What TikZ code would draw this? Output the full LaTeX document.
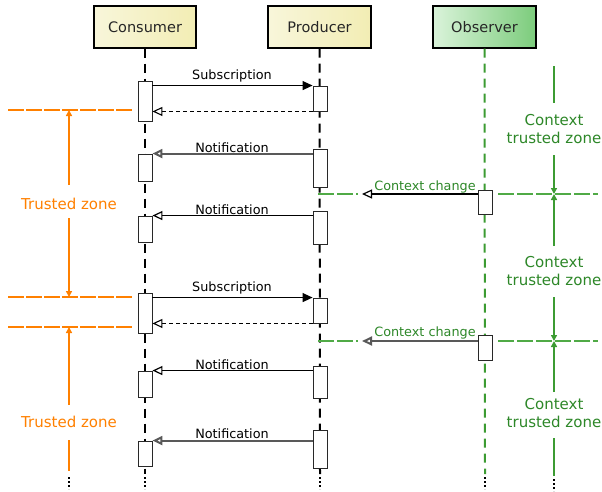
\documentclass[tikz,border=0pt]{standalone}
\usepackage{fontspec}
\setmainfont{DejaVu Sans}
\usetikzlibrary{arrows.meta,calc}
\definecolor{orz}{RGB}{255,128,0}
\definecolor{grz}{RGB}{60,155,50}
\definecolor{grl}{RGB}{80,170,70}
\definecolor{grt}{RGB}{45,135,40}
\definecolor{boxline}{RGB}{40,40,40}
\definecolor{ylL}{RGB}{248,246,218}
\definecolor{ylR}{RGB}{242,237,180}
\definecolor{gnL}{RGB}{218,243,218}
\definecolor{gnR}{RGB}{124,204,124}
\tikzset{
  header/.style={draw=black, line width=1.2pt, minimum width=102pt, minimum height=42pt, inner sep=0pt, font=\fontsize{14.5}{17}\selectfont, text=black!85},
  yhead/.style={header, left color=ylL, right color=ylR},
  ghead/.style={header, left color=gnL, right color=gnR},
  actbox/.style={draw=boxline, fill=white, line width=0.9pt, minimum width=14pt, inner sep=0pt},
  lifeline/.style={line width=2pt, dash pattern=on 9pt off 6pt},
  dotsline/.style={line width=2pt, dash pattern=on 2pt off 2pt},
  msgfill/.style={line width=1.2pt, -{Triangle[width=9pt,length=10pt]}},
  msgopen/.style={line width=1.2pt, -{Triangle[open,width=9pt,length=10pt,fill=white]}},
  msggray/.style={msgopen, draw=black!65, line width=2pt},
  retmsg/.style={line width=1.1pt, dash pattern=on 4pt off 3pt, -{Triangle[open,width=9pt,length=10pt,fill=white]}},
  lbl/.style={font=\fontsize{12.8}{15}\selectfont, inner sep=0pt},
  zonetext/.style={font=\fontsize{15}{18}\selectfont, align=center, inner sep=0pt},
  ozone/.style={draw=orz, line width=2pt, dash pattern=on 16pt off 2pt},
  oarr/.style={draw=orz, line width=1.5pt, -{Triangle[width=6pt,length=6pt]}},
  oline/.style={draw=orz, line width=1.5pt},
  gzone/.style={draw=grl, line width=2pt, dash pattern=on 16pt off 3pt},
  garr/.style={draw=grz, line width=1.8pt, -{Triangle[width=6pt,length=6pt]}},
  gline/.style={draw=grz, line width=1.8pt}
}
\begin{document}
\begin{tikzpicture}[x=1pt,y=-1pt]
\useasboundingbox (0,0) rectangle (602,491);

% headers
\node[yhead] (cons) at (145,27) {Consumer};
\node[yhead, minimum width=103pt] (prod) at (319.5,27) {Producer};
\node[ghead, minimum width=103pt] (obs) at (484.5,27) {Observer};

% lifeline ends
\coordinate (cend) at (145,474);
\coordinate (pend) at (320,474);
\coordinate (oend) at (485,474);
\coordinate (cdot1) at (145,477); \coordinate (cdot2) at (145,489);
\coordinate (pdot1) at (320,477); \coordinate (pdot2) at (320,489);
\coordinate (odot1) at (485,477); \coordinate (odot2) at (485,489);

\draw[lifeline] (cons.south) -- (cend);
\draw[lifeline] (prod.south) -- (pend);
\draw[lifeline, draw=grz] (obs.south) -- (oend);
\draw[dotsline] (cdot1) -- (cdot2);
\draw[dotsline] (pdot1) -- (pdot2);
\draw[dotsline] (odot1) -- (odot2);

% orange zone lines
\coordinate (oh1a) at (8,110); \coordinate (oh1b) at (133,110);
\coordinate (oh2a) at (8,297); \coordinate (oh2b) at (133,297);
\coordinate (oh3a) at (8,327); \coordinate (oh3b) at (133,327);
\draw[ozone] (oh1a) -- (oh1b);
\draw[ozone] (oh2a) -- (oh2b);
\draw[ozone] (oh3a) -- (oh3b);
\node[zonetext, text=orz] (tz1) at (69,204) {Trusted zone};
\node[zonetext, text=orz] (tz2) at (69,422) {Trusted zone};
\coordinate (ov1) at (69,185); \coordinate (ov1t) at (69,110);
\coordinate (ov2) at (69,218); \coordinate (ov2t) at (69,297);
\coordinate (ov3) at (69,405); \coordinate (ov3t) at (69,327);
\coordinate (ov4) at (69,440); \coordinate (ov4e) at (69,471);
\coordinate (odt1) at (69,477); \coordinate (odt2) at (69,489);
\draw[oarr] (ov1) -- (ov1t);
\draw[oarr] (ov2) -- (ov2t);
\draw[oarr] (ov3) -- (ov3t);
\draw[oline] (ov4) -- (ov4e);
\draw[dotsline] (odt1) -- (odt2);

% green zone lines
\coordinate (gh1a) at (318,194); \coordinate (gh1b) at (358,194);
\coordinate (gh1c) at (498,194); \coordinate (gh1d) at (598,194);
\coordinate (gh2a) at (318,341); \coordinate (gh2b) at (358,341);
\coordinate (gh2c) at (498,341); \coordinate (gh2d) at (598,341);
\draw[gzone] (gh1a) -- (gh1b);
\draw[gzone] (gh1c) -- (gh1d);
\draw[gzone] (gh2a) -- (gh2b);
\draw[gzone] (gh2c) -- (gh2d);
\node[zonetext, text=grt] (cz1) at (554,129) {Context\\trusted zone};
\node[zonetext, text=grt] (cz2) at (554,271) {Context\\trusted zone};
\node[zonetext, text=grt] (cz3) at (554,413) {Context\\trusted zone};
\coordinate (gv0a) at (554,66); \coordinate (gv0b) at (554,103);
\coordinate (gv1) at (554,155); \coordinate (gv1t) at (554,194);
\coordinate (gv2) at (554,246); \coordinate (gv2t) at (554,194);
\coordinate (gv3) at (554,297); \coordinate (gv3t) at (554,341);
\coordinate (gv4) at (554,392); \coordinate (gv4t) at (554,341);
\coordinate (gv5a) at (554,438); \coordinate (gv5b) at (554,476);
\coordinate (gdt1) at (554,479); \coordinate (gdt2) at (554,491);
\draw[gline] (gv0a) -- (gv0b);
\draw[garr] (gv1) -- (gv1t);
\draw[garr] (gv2) -- (gv2t);
\draw[garr] (gv3) -- (gv3t);
\draw[garr] (gv4) -- (gv4t);
\draw[gline] (gv5a) -- (gv5b);
\draw[dotsline] (gdt1) -- (gdt2);

% activation boxes
\node[actbox, minimum height=40pt] (c1) at (145,101) {};
\node[actbox, minimum height=27pt] (c2) at (145,167.5) {};
\node[actbox, minimum height=26pt] (c3) at (145,229) {};
\node[actbox, minimum height=40pt] (c4) at (145,313) {};
\node[actbox, minimum height=26pt] (c5) at (145,384) {};
\node[actbox, minimum height=25pt] (c6) at (145,453.5) {};
\node[actbox, minimum height=25pt] (p1) at (320,98.5) {};
\node[actbox, minimum height=38pt] (p2) at (320,168) {};
\node[actbox, minimum height=33pt] (p3) at (320,227.5) {};
\node[actbox, minimum height=25pt] (p4) at (320,310.5) {};
\node[actbox, minimum height=32pt] (p5) at (320,382) {};
\node[actbox, minimum height=38pt] (p6) at (320,449) {};
\node[actbox, minimum height=24pt] (o1) at (485,202) {};
\node[actbox, minimum height=25pt] (o2) at (485,347.5) {};

% messages
\draw[msgfill] (c1.east |- p1.north) -- (p1.north west);
\draw[retmsg] (p1.south west) -- (c1.east |- p1.south);
\draw[msggray] (p2.west |- c2.north) -- (c2.north east);
\draw[msgopen] (p3.west |- c3.north) -- (c3.north east);
\draw[msgfill] (c4.east |- p4.north) -- (p4.north west);
\draw[retmsg] (p4.south west) -- (c4.east |- p4.south);
\draw[msgopen] (p5.west |- c5.north) -- (c5.north east);
\draw[msggray] (p6.west |- c6.north) -- (c6.north east);
\coordinate (cc1) at (362,194);
\coordinate (cc2) at (362,341);
\draw[msgopen] (o1.west |- cc1) -- (cc1);
\draw[msggray] (o2.west |- cc2) -- (cc2);

% labels
\node[lbl] (l1) at (232,76) {Subscription};
\node[lbl] (l2) at (232,148) {Notification};
\node[lbl] (l3) at (232,210) {Notification};
\node[lbl] (l4) at (232,288) {Subscription};
\node[lbl] (l5) at (232,365) {Notification};
\node[lbl] (l6) at (232,434) {Notification};
\node[lbl, text=grt] (l7) at (425,187) {Context change};
\node[lbl, text=grt] (l8) at (425,333) {Context change};
\end{tikzpicture}
\end{document}
